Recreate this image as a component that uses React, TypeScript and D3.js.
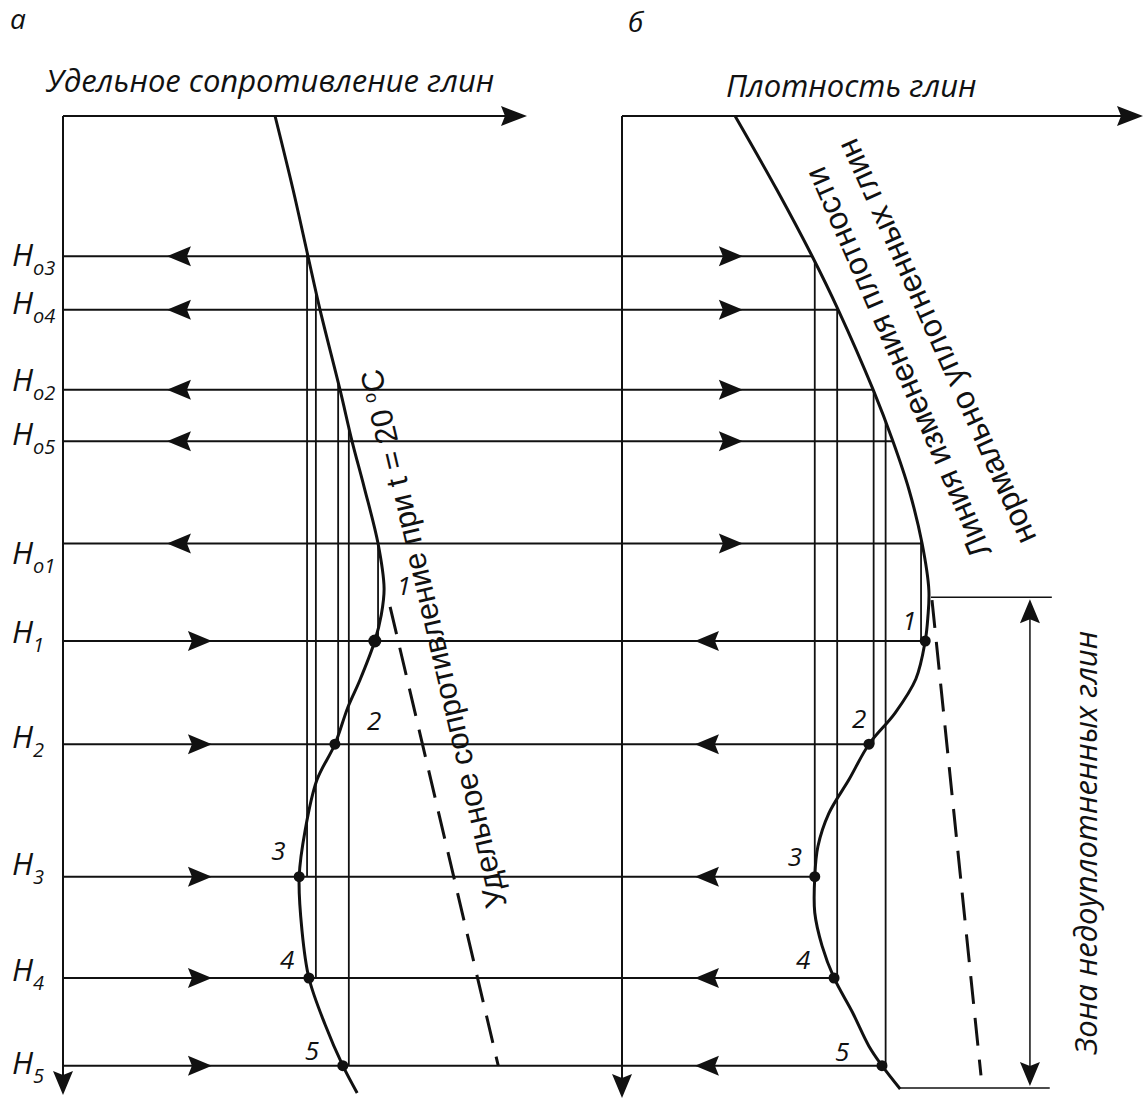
import React from 'react';
import * as d3 from 'd3';

// depth levels (0 = top axis, 100 = bottom of the section)
const levelSubs = ['o3', 'o4', 'o2', 'o5', 'o1', '1', '2', '3', '4', '5'];
const levelDepths = [14.4, 19.9, 28.1, 33.4, 43.9, 53.9, 64.5, 78.1, 88.5, 97.5];
const levelKinds = ['o', 'o', 'o', 'o', 'o', 'h', 'h', 'h', 'h', 'h'];

// points 1..5 : depth H_i and the depth H_oi with the same property on the trend
const pointIds = ['1', '2', '3', '4', '5'];
const hDepth = [53.9, 64.5, 78.1, 88.5, 97.5];
const resistAtPoint = [67.2, 58.6, 50.9, 53.0, 60.3];
const resistVertical = [67.9, 59.3, 52.6, 54.5, 61.6];
const densityAtPoint = [58.2, 47.4, 37.0, 40.7, 49.9];
const densityVertical = [57.4, 48.3, 37.0, 41.3, 50.6];

// resistivity (panel a), relative units 0..100
const resistTrendDepth = [0, 7.6, 14.4, 19.9, 28.1, 33.4, 38.1, 43.9, 48.5];
const resistTrendValue = [45.7, 49.6, 52.8, 55.4, 59.7, 62.3, 64.9, 67.9, 69.2];
const resistActualDepth = [48.5, 51.2, 53.9, 57.9, 60.7, 64.5, 68.2, 73.3, 78.1, 83.6, 88.5, 93.3, 97.5, 100.3];
const resistActualValue = [69.2, 68.6, 67.2, 64.0, 61.4, 58.6, 54.7, 52.2, 50.9, 51.5, 53.0, 56.5, 60.3, 63.4];
const resistDashDepth = [50.4, 97.5];
const resistDashValue = [70.5, 93.8];

// density (panel b), relative units 0..100
const densityTrendDepth = [0, 7.6, 14.4, 19.9, 28.1, 33.4, 38.4, 43.9, 48.7];
const densityTrendValue = [21.7, 29.75, 36.5, 41.5, 48.2, 52.0, 55.1, 57.6, 58.9];
const densityActualDepth = [48.7, 51.5, 53.9, 57.8, 61.3, 64.5, 68.1, 71.6, 75.0, 78.1, 81.8, 85.2, 88.5, 92.1, 95.5, 97.5, 99.9];
const densityActualValue = [58.9, 58.7, 58.2, 56.4, 52.4, 47.4, 43.6, 39.7, 37.6, 37.0, 37.0, 38.4, 40.7, 44.3, 47.4, 49.9, 53.4];
const densityDashDepth = [49.7, 98.5];
const densityDashValue = [59.5, 68.9];

// zone of undercompacted clays
const zoneTopDepth = 49.4;
const zoneBottomDepth = 99.8;

const W = 1147;
const H = 1100;
const ink = '#111';
const fontUp = "'Liberation Sans', Arial, sans-serif";
const fontIt = "'Open Sans', 'Liberation Sans', sans-serif";

// label offsets (px) of point numbers relative to their dots
const labelOffA = [[22, -46], [32, -14], [-28, -17], [-29, -9], [-38, -6]];
const labelOffB = [[-23, -11], [-17, -16], [-27, -11], [-38, -9], [-47, -5]];
const hLabelDy = [10, 4, 1, 4, 20, 2, 4, -2, 3, 8];

const arrow = (x: number, y: number, dir: string, len = 24, half = 10) => {
  const n = 4;
  if (dir === 'l') return `M${x},${y}L${x + len},${y - half}L${x + len - n},${y}L${x + len},${y + half}Z`;
  if (dir === 'r') return `M${x},${y}L${x - len},${y - half}L${x - len + n},${y}L${x - len},${y + half}Z`;
  if (dir === 'u') return `M${x},${y}L${x - half},${y + len}L${x},${y + len - n}L${x + half},${y + len}Z`;
  return `M${x},${y}L${x - half},${y - len}L${x},${y - len + n}L${x + half},${y - len}Z`;
};

export default function App() {
  const y = d3.scaleLinear().domain([0, 100]).range([116, 1090]);
  const xA = d3.scaleLinear().domain([0, 100]).range([63, 527]);
  const xB = d3.scaleLinear().domain([0, 100]).range([622, 1143]);

  const pair = (vals: number[], deps: number[]) => deps.map((d, i) => [vals[i], d]);
  const solidA = pair(resistTrendValue, resistTrendDepth).concat(pair(resistActualValue, resistActualDepth).slice(1));
  const solidB = pair(densityTrendValue, densityTrendDepth).concat(pair(densityActualValue, densityActualDepth).slice(1));

  const lineA = d3.line<number[]>().x(p => xA(p[0])).y(p => y(p[1])).curve(d3.curveCatmullRom.alpha(0.5));
  const lineB = d3.line<number[]>().x(p => xB(p[0])).y(p => y(p[1])).curve(d3.curveCatmullRom.alpha(0.5));
  const straightA = d3.line<number[]>().x(p => xA(p[0])).y(p => y(p[1]));
  const straightB = d3.line<number[]>().x(p => xB(p[0])).y(p => y(p[1]));

  // trend inversions
  const depthOfResist = d3.scaleLinear().domain(resistTrendValue).range(resistTrendDepth);
  const depthOfDensity = d3.scaleLinear().domain(densityTrendValue).range(densityTrendDepth);
  const densityAtDepth = d3.scaleLinear().domain(densityTrendDepth).range(densityTrendValue);

  const axisY0 = y(0);
  const axisY1 = y(100) + 5;

  return (
    <svg width={W} height={H} style={{ position: 'absolute', left: 0, top: 0, background: '#fff' }}>
      <rect width={W} height={H} fill="#fff" />

      {/* panel letters and titles */}
      <text x={10} y={29} fontFamily={fontIt} fontStyle="italic" fontSize={28} fill={ink}>а</text>
      <text x={628} y={32} fontFamily={fontIt} fontStyle="italic" fontSize={28} fill={ink}>б</text>
      <text x={46} y={92} fontFamily={fontIt} fontStyle="italic" fontSize={31} fill={ink}>Удельное сопротивление глин</text>
      <text x={726} y={97} fontFamily={fontIt} fontStyle="italic" fontSize={31} fill={ink}>Плотность глин</text>

      {/* axes */}
      <g stroke={ink} strokeWidth={2} fill="none">
        <line x1={xA(0)} y1={axisY0} x2={xA(100) - 10} y2={axisY0} />
        <line x1={xA(0)} y1={axisY0} x2={xA(0)} y2={axisY1 - 10} />
        <line x1={xB(0)} y1={axisY0} x2={xB(100) - 10} y2={axisY0} />
        <line x1={xB(0)} y1={axisY0} x2={xB(0)} y2={axisY1 - 10} />
      </g>
      <g fill={ink}>
        <path d={arrow(xA(100), axisY0, 'r', 26, 10)} />
        <path d={arrow(xB(100), axisY0, 'r', 26, 10)} />
        <path d={arrow(xA(0), axisY1, 'd', 24, 10)} />
        <path d={arrow(xB(0), axisY1 + 3, 'd', 24, 10)} />
      </g>

      {/* horizontal depth lines */}
      {levelDepths.map((d, i) => {
        const end = levelKinds[i] === 'o' ? densityAtDepth(d) : densityAtPoint[i - 5];
        const yy = y(d);
        const isO = levelKinds[i] === 'o';
        return (
          <g key={'lv' + i}>
            <line x1={xA(0)} y1={yy} x2={xB(end)} y2={yy} stroke={ink} strokeWidth={2} />
            <path d={isO ? arrow(xA(22.4), yy, 'l') : arrow(xA(32.1), yy, 'r')} fill={ink} />
            <path d={isO ? arrow(xB(23.2), yy, 'r') : arrow(xB(14.0), yy, 'l')} fill={ink} />
            <text x={12} y={yy + hLabelDy[i]} fontFamily={fontIt} fontStyle="italic" fill={ink}>
              <tspan fontSize={31}>H</tspan>
              <tspan fontSize={20} dy={9}>{levelSubs[i]}</tspan>
            </text>
          </g>
        );
      })}

      {/* verticals: equal property from H_oi down to H_i */}
      <g stroke={ink} strokeWidth={1.8}>
        {pointIds.map((id, i) => (
          <line key={'va' + id} x1={xA(resistVertical[i])} x2={xA(resistVertical[i])}
            y1={y(depthOfResist(resistVertical[i]))} y2={y(hDepth[i])} />
        ))}
        {pointIds.map((id, i) => (
          <line key={'vb' + id} x1={xB(densityVertical[i])} x2={xB(densityVertical[i])}
            y1={y(depthOfDensity(densityVertical[i]))} y2={y(hDepth[i])} />
        ))}
      </g>

      {/* curves */}
      <path d={lineA(solidA) || ''} fill="none" stroke={ink} strokeWidth={3} />
      <path d={lineB(solidB) || ''} fill="none" stroke={ink} strokeWidth={3} />
      <path d={straightA(pair(resistDashValue, resistDashDepth)) || ''} fill="none" stroke={ink} strokeWidth={3} strokeDasharray="28 14" />
      <path d={straightB(pair(densityDashValue, densityDashDepth)) || ''} fill="none" stroke={ink} strokeWidth={3} strokeDasharray="28 14" />

      {/* points */}
      {pointIds.map((id, i) => (
        <g key={'pt' + id}>
          <circle cx={xA(resistAtPoint[i])} cy={y(hDepth[i])} r={i === 0 ? 6.5 : 5.5} fill={ink} />
          <circle cx={xB(densityAtPoint[i])} cy={y(hDepth[i])} r={5.5} fill={ink} />
          <text x={xA(resistAtPoint[i]) + labelOffA[i][0]} y={y(hDepth[i]) + labelOffA[i][1]}
            fontFamily={fontIt} fontStyle="italic" fontSize={26} fill={ink}>{id}</text>
          <text x={xB(densityAtPoint[i]) + labelOffB[i][0]} y={y(hDepth[i]) + labelOffB[i][1]}
            fontFamily={fontIt} fontStyle="italic" fontSize={26} fill={ink}>{id}</text>
        </g>
      ))}

      {/* zone bracket */}
      <g stroke={ink} strokeWidth={1.5}>
        <line x1={xB(59.3)} x2={xB(82.5)} y1={y(zoneTopDepth)} y2={y(zoneTopDepth)} />
        <line x1={xB(53.4)} x2={xB(82.1)} y1={y(zoneBottomDepth)} y2={y(zoneBottomDepth)} />
        <line x1={xB(78.3)} x2={xB(78.3)} y1={y(zoneTopDepth) + 10} y2={y(zoneBottomDepth) - 10} />
      </g>
      <path d={arrow(xB(78.3), y(zoneTopDepth) + 2, 'u', 24, 10)} fill={ink} />
      <path d={arrow(xB(78.3), y(zoneBottomDepth) - 2, 'd', 24, 10)} fill={ink} />

      {/* rotated captions */}
      <text transform="translate(507,905) rotate(-103.2)" fontFamily={fontUp} fontSize={31} fill={ink}>
        Удельное сопротивление при t = 20 <tspan fontSize={18} dy={-12}>o</tspan><tspan dy={12}>C</tspan>
      </text>
      <text transform="translate(992,552) rotate(-113.5)" fontFamily={fontUp} fontSize={32} fill={ink}>
        Линия изменения плотности
      </text>
      <text transform="translate(1037,538) rotate(-114.3)" fontFamily={fontUp} fontSize={32} fill={ink}>
        нормально уплотненных глин
      </text>
      <text transform={`translate(1097,${(y(zoneTopDepth) + y(zoneBottomDepth)) / 2}) rotate(-90)`}
        textAnchor="middle" fontFamily={fontIt} fontStyle="italic" fontSize={31} fill={ink}>
        Зона недоуплотненных глин
      </text>
    </svg>
  );
}
